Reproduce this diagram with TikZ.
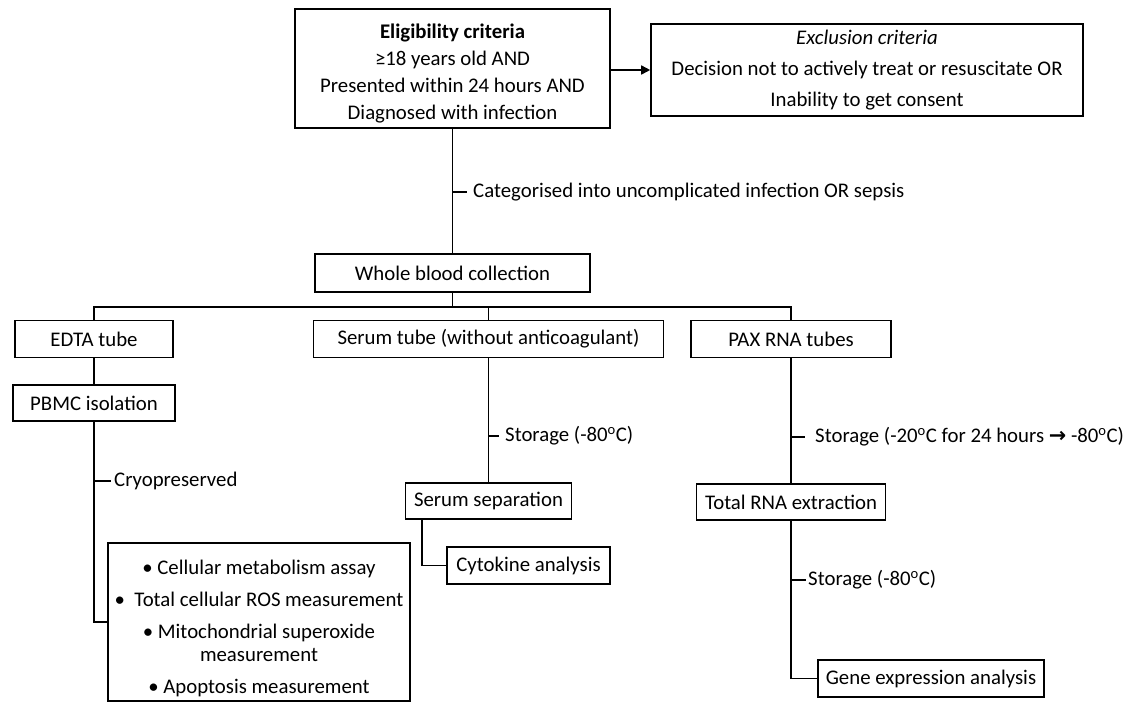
\documentclass[tikz,border=0pt]{standalone}
\usepackage{fontspec}
\setmainfont{Carlito}
\newfontfamily\dejavu{DejaVu Sans}
\usetikzlibrary{arrows.meta}
\begin{document}
\begin{tikzpicture}[x=1pt,y=-1pt,
  box/.style={draw, line width=1.6pt, inner sep=0pt, align=center, font=\fontsize{20.8}{27}\selectfont},
  txt/.style={inner sep=0pt, align=center, font=\fontsize{20.8}{27}\selectfont},
  lbl/.style={anchor=west, inner ysep=0pt, font=\fontsize{20.8}{24}\selectfont},
  conn/.style={line width=1.6pt}]
\useasboundingbox (0,0) rectangle (1131,702);
% boxes
\node[box, minimum width=315pt, minimum height=119pt] (elig) at (452.5,68.5) {};
\node[txt] (eligt) at (452.5,73)
  {\textbf{Eligibility criteria}\\ ≥18 years old AND\\ Presented within 24 hours AND\\ Diagnosed with infection};
\node[box, minimum width=432pt, minimum height=92pt, font=\fontsize{20.8}{31}\selectfont] (excl) at (867,70)
  {\textit{Exclusion criteria}\\ Decision not to actively treat or resuscitate OR\\ Inability to get consent};
\node[box, minimum width=275pt, minimum height=38pt] (wb) at (452.5,273) {Whole blood collection};
\node[box, minimum width=158pt, minimum height=37pt] (edta) at (94,339) {EDTA tube};
\node[box, minimum width=350pt, minimum height=37pt] (serum) at (488.5,339) {Serum tube (without anticoagulant)};
\node[box, minimum width=200pt, minimum height=37pt] (pax) at (791,339) {PAX RNA tubes};
\node[box, minimum width=162pt, minimum height=36pt] (pbmc) at (94,403) {PBMC isolation};
\node[box, minimum width=166pt, minimum height=36pt] (sep) at (488.5,501) {Serum separation};
\node[box, minimum width=163pt, minimum height=37pt] (cyto) at (528.5,565.5) {Cytokine analysis};
\node[box, minimum width=189pt, minimum height=36pt] (rna) at (791,502) {Total RNA extraction};
\node[box, minimum width=226pt, minimum height=37pt] (gene) at (931,678.5) {Gene expression analysis};
\node[box, minimum width=302pt, minimum height=158pt] (assay) at (259,622) {};
\node[txt, font=\fontsize{20.8}{23}\selectfont] (assayt) at (259,628)
  {• Cellular metabolism assay\\[9pt] •\ \ Total cellular ROS measurement\\[9pt] • Mitochondrial superoxide\\ measurement\\[9pt] • Apoptosis measurement};
% labels
\coordinate (t1) at (452.5,192);
\node[lbl, inner xsep=6pt] (catl) at (467,192) {Categorised into uncomplicated infection OR sepsis};
\coordinate (t2) at (488.5,436);
\node[lbl, inner xsep=6pt] (stl1) at (499,436) {Storage (-80\textsuperscript{o}C)};
\coordinate (t3) at (791,437);
\node[lbl, inner xsep=10pt] (stl2) at (805,437) {Storage (-20\textsuperscript{o}C for 24 hours {\dejavu\bfseries →} -80\textsuperscript{o}C)};
\coordinate (t4) at (94,481);
\node[lbl, inner xsep=3pt] (cryl) at (111,481) {Cryopreserved};
\coordinate (t5) at (791,580);
\node[lbl, inner xsep=2pt] (stl3) at (806,580) {Storage (-80\textsuperscript{o}C)};
% connectors
\draw[conn, -{Triangle[length=9pt,width=9pt]}] (elig.east |- excl.west) -- (excl.west);
\draw[conn] (elig.south) -- (wb.north);
\draw[conn] (wb.south) -- ++(0,15);
\draw[conn] (edta.north) -- ++(0,-13) -| (pax.north);
\draw[conn] (serum.north) -- ++(0,-13);
\draw[conn] (edta.south) -- (pbmc.north);
\draw[conn] (pbmc.south) |- (assay.west);
\draw[conn] (serum.south) -- (sep.north);
\draw[conn] ([xshift=-66.5pt]sep.south) |- (cyto.west);
\draw[conn] (pax.south) -- (rna.north);
\draw[conn] (rna.south) |- (gene.west);
\draw[conn] (t1) -- (catl.west);
\draw[conn] (t2) -- (stl1.west);
\draw[conn] (t3) -- (stl2.west);
\draw[conn] (t4) -- (cryl.west);
\draw[conn] (t5) -- (stl3.west);
\end{tikzpicture}
\end{document}
